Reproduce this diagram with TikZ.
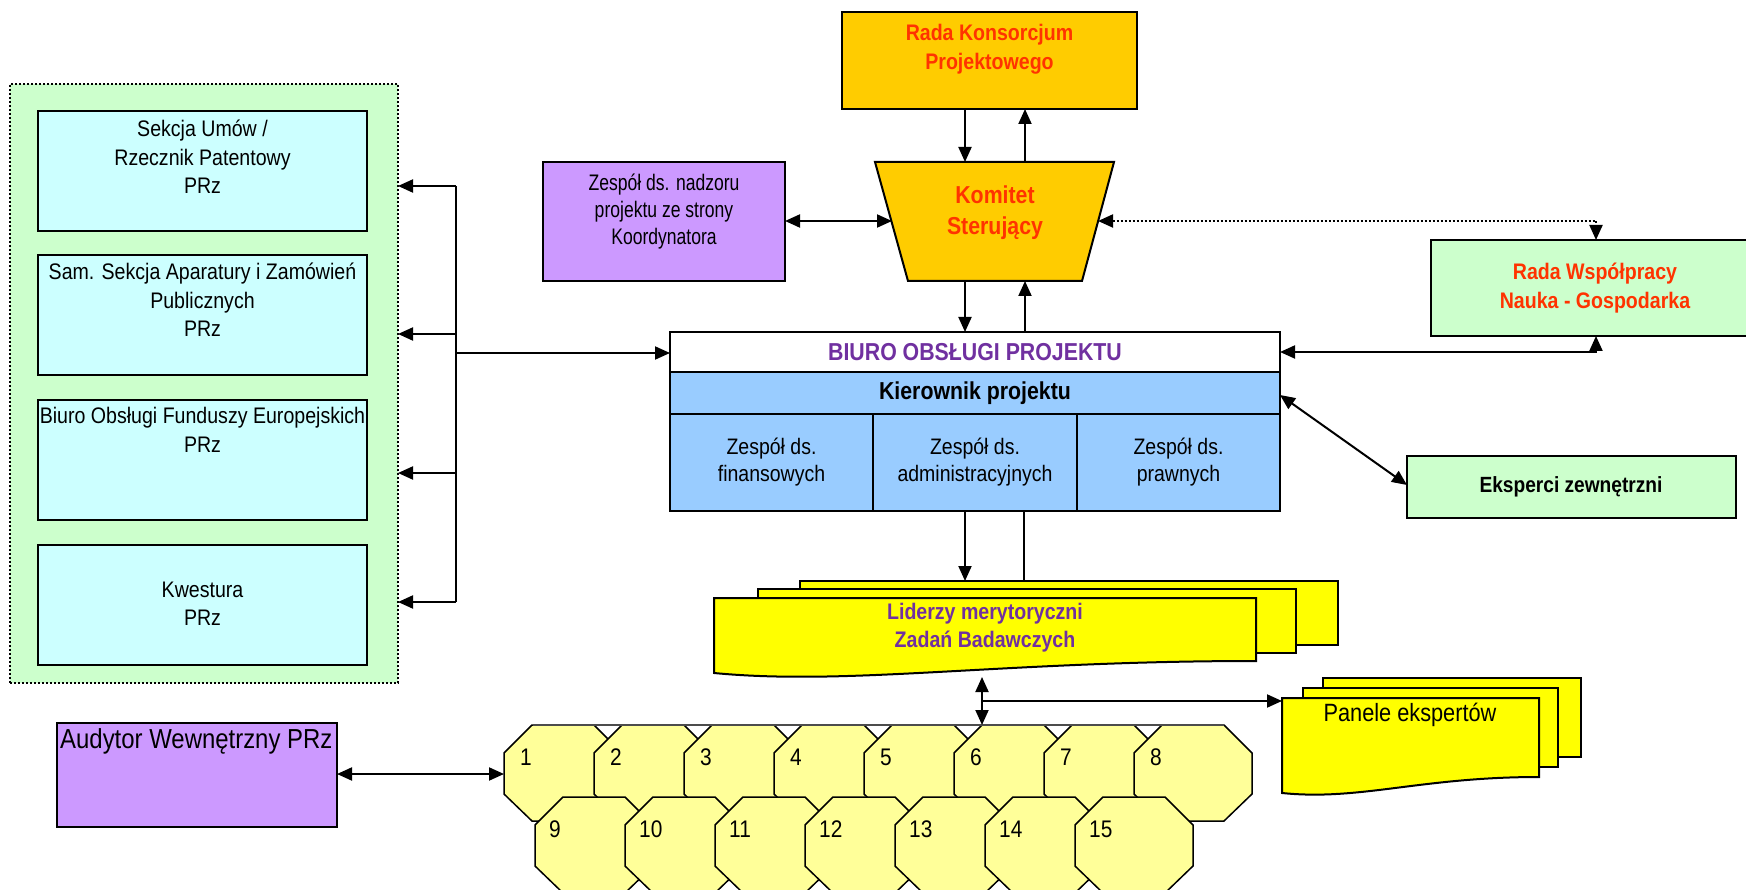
\documentclass[tikz,border=0pt]{standalone}
\usepackage{fontspec}
\setmainfont{Liberation Sans}[FakeStretch=0.87]
\newfontfamily\nfont{Liberation Sans}[FakeStretch=0.78]
\usetikzlibrary{arrows.meta,calc}
\definecolor{cgreen}{HTML}{CCFFCC}
\definecolor{ccyan}{HTML}{CCFFFF}
\definecolor{cgold}{HTML}{FFCC00}
\definecolor{cred}{HTML}{FF3300}
\definecolor{cviolet}{HTML}{CC99FF}
\definecolor{cblue}{HTML}{99CCFF}
\definecolor{cpurple}{HTML}{7030A0}
\definecolor{cyel}{HTML}{FFFF00}
\definecolor{clyel}{HTML}{FFFF99}
\newcommand\fsz[2]{\fontsize{#1pt}{#2pt}\selectfont}
\newcommand\mybox[6]{\node[#6, minimum width={(#4)-(#2)}, minimum height={(#5)-(#3)}] (#1) at ({((#2)+(#4))/2},{((#3)+(#5))/2}) {};}
\begin{document}
\begin{tikzpicture}[x=1pt,y=-1pt,
 bx/.style={draw, line width=2pt, inner sep=0pt, outer sep=0pt, rectangle},
 txt/.style={inner sep=0pt, align=center},
 tip/.tip={Triangle[length=15pt,width=13pt]},
 arr/.style={line width=2pt, -tip},
 darr/.style={line width=2pt, tip-tip},
 ln/.style={line width=2pt},
 dotline/.style={line width=2pt, dash pattern=on 2pt off 2pt},
 oct/.style={draw, line width=1.5pt, fill=clyel, line join=miter},
 doc/.style={draw, line width=2pt, fill=cyel},
 reg/.style={font=\fsz{22.5}{28.5}},
 bld/.style={font=\fsz{22.5}{29}\bfseries},
]
\useasboundingbox (0,0) rectangle (1746,890);

% ---------- left group ----------
\mybox{grp}{10}{84}{398}{683}{bx, fill=cgreen, dotline}
\mybox{s1}{38}{111}{367}{231}{bx, fill=ccyan}
\mybox{s2}{38}{255}{367}{375}{bx, fill=ccyan}
\mybox{s3}{38}{400}{367}{520}{bx, fill=ccyan}
\mybox{s4}{38}{545}{367}{665}{bx, fill=ccyan}
\node[txt, reg] (t1) at (202.5,157) {Sekcja Umów /\\Rzecznik Patentowy\\PRz};
\node[txt, reg] (t2) at (202.5,300) {Sam. Sekcja Aparatury i Zamówień\\Publicznych\\PRz};
\node[txt, reg] (t3) at (202.5,430) {Biuro Obsługi Funduszy Europejskich\\PRz};
\node[txt, reg] (t4) at (202.5,604) {Kwestura\\PRz};

\coordinate (b1) at (456,186);
\coordinate (b2) at (456,334);
\coordinate (b3) at (456,473);
\coordinate (b4) at (456,602);
\coordinate (b0) at (456,353);
\draw[ln] (b1) -- (b4);

% ---------- top ----------
\mybox{rk}{842}{12}{1137}{109}{bx, fill=cgold}
\node[txt, bld, text=cred] (trk) at (989.5,49) {Rada Konsorcjum\\Projektowego};

\draw[line width=2pt, fill=cgold] (875,162) -- (1114,162) -- (1082,281) -- (908,281) -- cycle;
\node[txt, text=cred, font=\fsz{24.5}{31}\bfseries] (kom) at (995,213) {Komitet\\Sterujący};
\coordinate (komL) at (892,221);
\coordinate (komR) at (1098,221);

\mybox{zn}{543}{162}{785}{281}{bx, fill=cviolet}
\node[txt, font=\nfont\fsz{22.5}{27}] (tzn) at (664,212) {Zespół ds. nadzoru\\projektu ze strony\\Koordynatora};

% ---------- right ----------
\mybox{rw}{1431}{240}{1760}{336}{bx, fill=cgreen}
\node[txt, bld, text=cred] (trw) at (1595,288) {Rada Współpracy\\Nauka - Gospodarka};
\mybox{ek}{1407}{456}{1736}{518}{bx, fill=cgreen}
\node[txt, font=\fsz{22}{26}\bfseries] (tek) at (1571,487) {Eksperci zewnętrzni};

% ---------- BIURO ----------
\mybox{hdr}{670}{332}{1280}{372}{bx, fill=white}
\mybox{kier}{670}{372}{1280}{414}{bx, fill=cblue}
\mybox{c1}{670}{414}{873}{511}{bx, fill=cblue}
\mybox{c2}{873}{414}{1077}{511}{bx, fill=cblue}
\mybox{c3}{1077}{414}{1280}{511}{bx, fill=cblue}
\node[txt, text=cpurple, font=\fsz{24.5}{29}\bfseries] (thdr) at (hdr) {BIURO OBSŁUGI PROJEKTU};
\node[txt, font=\fsz{24.5}{29}\bfseries] (tkier) at (kier) {Kierownik projektu};
\node[txt, font=\fsz{22.4}{27}] (tc1) at (c1) {Zespół ds.\\finansowych};
\node[txt, font=\fsz{22.4}{27}] (tc2) at (c2) {Zespół ds.\\administracyjnych};
\node[txt, font=\fsz{22.4}{27}] (tc3) at (c3) {Zespół ds.\\prawnych};

% ---------- Liderzy ----------
\mybox{lb}{800}{581}{1338}{645}{bx, fill=cyel}
\mybox{lm}{758}{589}{1296}{653}{bx, fill=cyel}
\draw[doc] (714,598) -- (1256,598) -- (1256,661) .. controls (1000,661) and (850,686) .. (714,673) -- cycle;
\node[txt, text=cpurple, font=\fsz{22.5}{28}\bfseries] (tl) at (985,628) {Liderzy merytoryczni\\Zadań Badawczych};
\coordinate (lbot) at (982,677);

% ---------- Panele ----------
\mybox{pb}{1323}{678}{1581}{757}{bx, fill=cyel}
\mybox{pm}{1303}{688}{1558}{767}{bx, fill=cyel}
\draw[doc] (1282,698) -- (1539,698) -- (1539,777) .. controls (1420,777) and (1360,801) .. (1282,793) -- cycle;
\node[txt, font=\fsz{25}{30}] (tp) at (1410,715) {Panele ekspertów};
\coordinate (pl) at (1282,701);

% ---------- Audytor ----------
\mybox{aud}{57}{723}{337}{827}{bx, fill=cviolet}
\node[txt, anchor=west, font=\fsz{27.5}{31}] (ta) at (60,741) {Audytor Wewnętrzny PRz};

% ---------- octagons ----------
\foreach \i in {0,...,7} {
  \pgfmathsetmacro\L{504+90*\i}
  \pgfmathtruncatemacro\n{\i+1}
  \draw[oct] ({\L+28},725) -- ({\L+90},725) -- ({\L+118},753) -- ({\L+118},794) -- ({\L+90},821) -- ({\L+28},821) -- (\L,794) -- (\L,753) -- cycle;
  \node[txt, anchor=west, font=\fsz{24}{28}] (n\n) at ({\L+16},757) {\n};
}
\draw[line width=1.5pt, black!70] (533,725) -- (1224,725);
\foreach \i in {0,...,6} {
  \pgfmathsetmacro\L{535+90*\i}
  \pgfmathtruncatemacro\n{\i+9}
  \draw[oct] ({\L+28},797) -- ({\L+90},797) -- ({\L+118},825) -- ({\L+118},866) -- ({\L+90},893) -- ({\L+28},893) -- (\L,866) -- (\L,825) -- cycle;
  \node[txt, anchor=west, font=\fsz{24}{28}] (n\n) at ({\L+14},829) {\n};
}
\coordinate (o1) at (504,774);
\coordinate (o6) at (982,725);

% ---------- connectors ----------
\foreach \b in {b1,b2,b3,b4} \draw[arr] (\b) -- (\b -| grp.east);
\draw[arr] (b0) -- (b0 -| hdr.west);

\draw[arr] (rk.south -| 965,0) -- (965,162);
\draw[arr] (1025,162) -- (rk.south -| 1025,0);
\draw[arr] (965,281) -- (hdr.north -| 965,0);
\draw[arr] (hdr.north -| 1025,0) -- (1025,281);
\draw[darr] (zn.east |- komL) -- (komL);
\draw[dotline, tip-tip] (komR) -- (1596,221) -- (rw.north -| 1596,0);
\draw[darr] (hdr.east |- 0,352) -- (1596,352) -- (rw.south -| 1596,0);
\draw[darr] (kier.east |- 0,395) -- (ek.west |- 0,485);

\draw[arr] (c2.south -| 965,0) -- (lb.north -| 965,0);
\draw[ln] (c2.south -| 1024,0) -- (lb.north -| 1024,0);

\draw[darr] (lbot) -- (o6);
\draw[arr] (982,701) -- (pl);
\draw[darr] (aud.east |- o1) -- (o1);
\end{tikzpicture}
\end{document}
